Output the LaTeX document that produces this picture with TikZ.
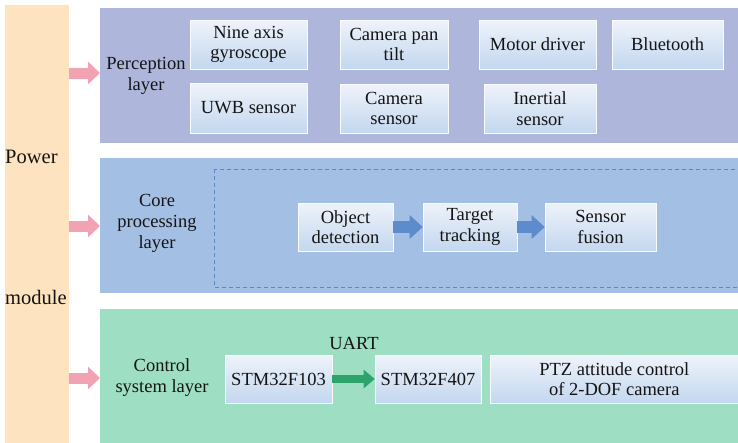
\documentclass[tikz,border=0pt]{standalone}
\usepackage{fontspec}
\setmainfont{Liberation Serif}
\newfontfamily\labelfont{Liberation Serif}
\usetikzlibrary{arrows.meta}

\definecolor{powerfill}{HTML}{FDE3BF}
\definecolor{pinkarrow}{HTML}{F2A3B3}
\definecolor{percfill}{HTML}{AEB6DC}
\definecolor{corefill}{HTML}{A4BFE4}
\definecolor{ctrlfill}{HTML}{9EDFC3}
\definecolor{dashcol}{HTML}{5B88C8}
\definecolor{bluearrow}{HTML}{5E8BCB}
\definecolor{greenarrow}{HTML}{2EA46C}
\definecolor{boxtop}{HTML}{EEF3FA}
\definecolor{boxbottom}{HTML}{C3D7EF}
\definecolor{ink}{HTML}{141414}

\tikzset{
  layer/.style={draw=none, inner sep=0pt},
  unitbox/.style={shade, top color=boxtop, bottom color=boxbottom,
    draw=white!60!boxtop, line width=0.6pt, inner sep=2pt, align=center,
    text=ink, font=\labelfont\fontsize{18.5}{20.5}\selectfont},
  layerlabel/.style={align=center, text=ink, inner sep=0pt,
    font=\labelfont\fontsize{18.5}{21}\selectfont},
  feed/.style={draw=pinkarrow, line width=11pt,
    -{Triangle[width=22pt,length=12pt]}, shorten <=0pt},
  flowarrow/.style={draw=bluearrow, line width=12pt,
    -{Triangle[width=23pt,length=13pt]}},
  uartarrow/.style={draw=greenarrow, line width=8pt,
    -{Triangle[width=18pt,length=11pt]}},
}

\begin{document}
\begin{tikzpicture}[x=1pt,y=-1pt]
\useasboundingbox (0,0) rectangle (738,442);
\clip (0,0) rectangle (738,442);
\fill[white] (0,0) rectangle (738,442);

% power supply bar
\fill[powerfill] (5,5) rectangle (69,445);
\coordinate (powerR) at (69,0);
\node[layerlabel, anchor=west, font=\labelfont\fontsize{20.5}{22}\selectfont] (pw1) at (5,157) {Power};
\node[layerlabel, anchor=west, font=\labelfont\fontsize{20.5}{22}\selectfont] (pw2) at (5,297) {module};

% three layers
\node[layer, fill=percfill, minimum width=640pt, minimum height=135pt, anchor=north west] (perc) at (100,8) {};
\node[layer, fill=corefill, minimum width=640pt, minimum height=135pt, anchor=north west] (core) at (100,158) {};
\node[layer, fill=ctrlfill, minimum width=640pt, minimum height=136pt, anchor=north west] (ctrl) at (100,309) {};

% feeds from the power module
\draw[feed] (powerR |- 0,73) -- (perc.west |- 0,73);
\draw[feed] (powerR |- 0,226) -- (core.west |- 0,226);
\draw[feed] (powerR |- 0,378) -- (ctrl.west |- 0,378);

% perception layer
\node[layerlabel] (percl) at (146,76) {Perception\\layer};
\node[unitbox, minimum width=117pt, minimum height=49pt] (nine) at (248.5,44.5) {Nine axis\\gyroscope};
\node[unitbox, minimum width=108pt, minimum height=49pt] (pan) at (394,44.5) {Camera pan\\tilt};
\node[unitbox, minimum width=117pt, minimum height=49pt] (motor) at (537.5,44.5) {Motor driver};
\node[unitbox, minimum width=111pt, minimum height=49pt] (bt) at (667.5,44.5) {Bluetooth};
\node[unitbox, minimum width=117pt, minimum height=50pt] (uwb) at (248.5,108) {UWB sensor};
\node[unitbox, minimum width=108pt, minimum height=49pt] (cams) at (394,108.5) {Camera\\sensor};
\node[unitbox, minimum width=112pt, minimum height=49pt] (inert) at (540,108.5) {Inertial\\sensor};

% core processing layer
\node[layerlabel] (corel) at (157,223) {Core\\processing\\layer};
\draw[dashcol, dashed, line width=0.9pt, dash pattern=on 4pt off 3pt] (214,169) rectangle (745,287);
\node[unitbox, minimum width=95pt, minimum height=48pt] (objdet) at (345.5,227) {Object\\detection};
\node[unitbox, minimum width=94pt, minimum height=48pt] (track) at (470,227) {Target\\tracking};
\node[unitbox, minimum width=111pt, minimum height=48pt] (fusion) at (600.5,227) {Sensor\\fusion};
\draw[flowarrow] (objdet) -- (track);
\draw[flowarrow] (track) -- (fusion);

% control system layer
\node[layerlabel] (ctrll) at (162,378) {Control\\system layer};
\node[unitbox, minimum width=107pt, minimum height=48pt] (f103) at (278.5,379) {STM32F103};
\node[unitbox, minimum width=106pt, minimum height=48pt] (f407) at (428,379) {STM32F407};
\node[unitbox, minimum width=252pt, minimum height=48pt, anchor=west] (ptz) at (490,379) {\hspace*{-4pt}PTZ attitude control\\\hspace*{-4pt}of 2-DOF camera};
\draw[uartarrow] (f103) -- (f407);
\node[layerlabel] (uart) at (354,343) {UART};
\end{tikzpicture}
\end{document}
